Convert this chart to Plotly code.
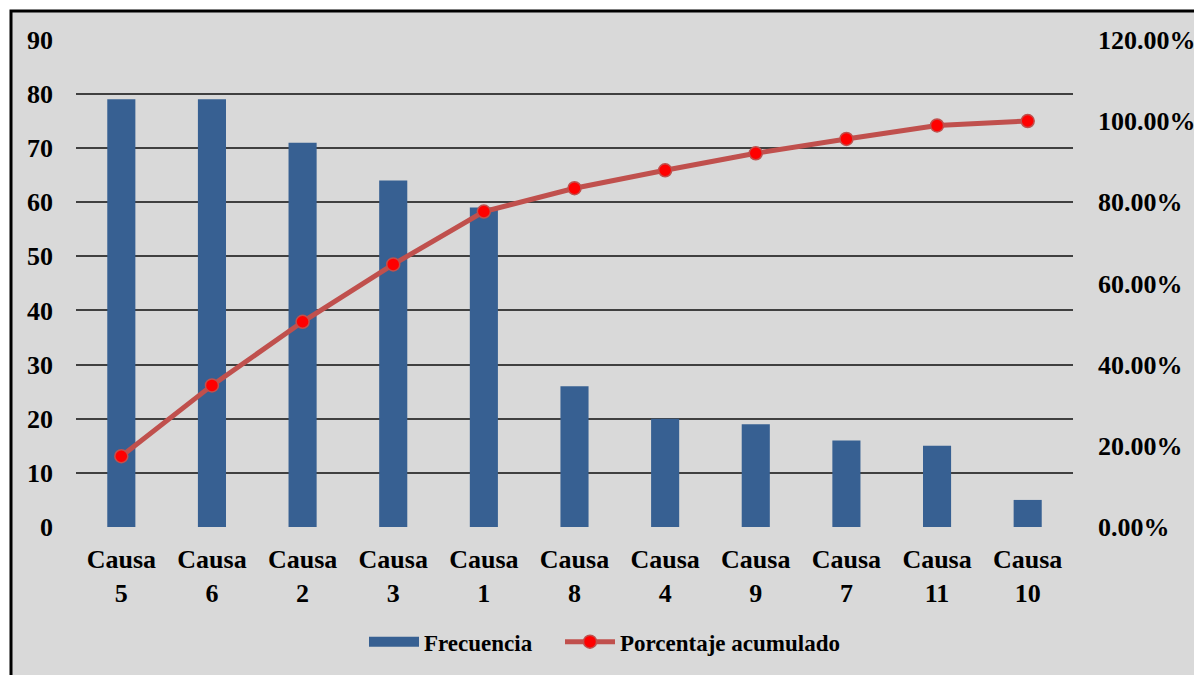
import plotly.graph_objects as go

categories = ["Causa<br>5", "Causa<br>6", "Causa<br>2", "Causa<br>3", "Causa<br>1", "Causa<br>8",
              "Causa<br>4", "Causa<br>9", "Causa<br>7", "Causa<br>11", "Causa<br>10"]
frecuencia = [79, 79, 71, 64, 59, 26, 20, 19, 16, 15, 5]
porcentaje_acumulado = [17.44, 34.88, 50.55, 64.68, 77.70, 83.44, 87.86, 92.05, 95.58, 98.90, 100.0]
left_ticks = [0, 10, 20, 30, 40, 50, 60, 70, 80, 90]
right_ticks = [0, 20, 40, 60, 80, 100, 120]
right_tick_text = ["0.00%", "20.00%", "40.00%", "60.00%", "80.00%", "100.00%", "120.00%"]

FONT = "Liberation Serif"
BG = "#d9d9d9"
BLUE = "#376092"

# page has an 8px body margin; figure sized to fit viewport
W, H = 1194, 667
L, T, R, B = 68, 31, 129, 146
PW, PH = W - L - R, H - T - B

fig = go.Figure()
fig.add_trace(go.Bar(
    x=categories, y=frecuencia, name="Frecuencia",
    marker=dict(color=BLUE, line=dict(width=0)),
    width=0.31, showlegend=False,
))
# legend-only entry giving a wide rectangular swatch like the original
fig.add_trace(go.Scatter(
    x=[None], y=[None], name="Frecuencia", mode="lines",
    line=dict(color=BLUE, width=14), legend="legend",
))
fig.add_trace(go.Scatter(
    x=categories, y=porcentaje_acumulado, name="Porcentaje acumulado", yaxis="y2",
    mode="lines+markers",
    line=dict(color="#c0504d", width=5),
    marker=dict(color="#ff0000", size=13, line=dict(color="#c0504d", width=1.5)),
    legend="legend2",
))

legend_style = dict(
    orientation="h", y=-0.235, xanchor="left", yanchor="middle",
    font=dict(family=FONT, size=23, color="black", weight="bold"),
    bgcolor="rgba(0,0,0,0)", itemwidth=50,
)

fig.update_layout(
    width=W, height=H,
    margin=dict(l=L, r=R, t=T, b=B),
    paper_bgcolor="white",
    plot_bgcolor="rgba(0,0,0,0)",
    font=dict(family=FONT, size=26, color="black", weight="bold"),
    showlegend=True,
    legend=dict(x=(364 - 76) / PW, **legend_style),
    legend2=dict(x=(560 - 76) / PW, **legend_style),
    xaxis=dict(
        range=[-0.5, len(categories) - 0.5],
        showgrid=False, showline=False, ticks="", automargin=False,
        tickfont=dict(family=FONT, size=26, weight="bold"),
        ticklabelstandoff=14,
    ),
    yaxis=dict(
        range=[0, 90.15], tickvals=left_ticks, showgrid=True,
        gridcolor="#404040", gridwidth=2,
        zeroline=True, zerolinecolor=BG, zerolinewidth=3,
        showline=False, ticks="", automargin=False,
        tickfont=dict(family=FONT, size=26, weight="bold"),
        ticklabelstandoff=22,
    ),
    yaxis2=dict(
        range=[0, 120.2], tickvals=right_ticks, ticktext=right_tick_text,
        overlaying="y", side="right", showgrid=False, zeroline=False,
        showline=False, ticks="", automargin=False,
        tickfont=dict(family=FONT, size=26, weight="bold"),
        ticklabelstandoff=24,
    ),
    shapes=[dict(
        type="rect", xref="paper", yref="paper",
        x0=(3 - L) / PW, x1=1.3, y0=-0.6, y1=(T + PH - 3) / PH,
        fillcolor=BG, line=dict(color="black", width=3), layer="below",
    )],
)

fig.write_html("out.html")
